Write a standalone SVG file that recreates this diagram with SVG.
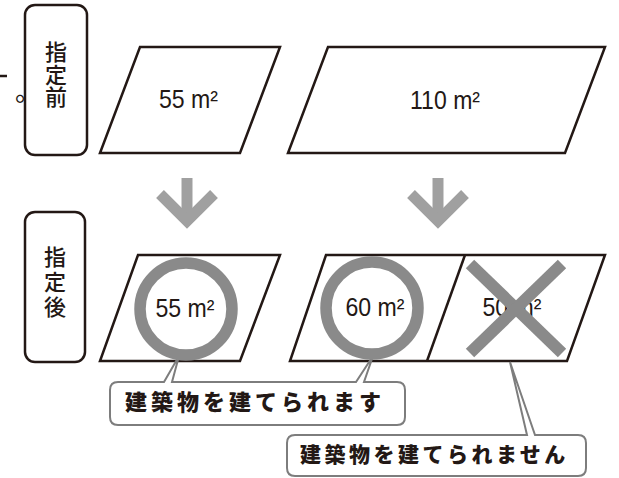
<svg xmlns="http://www.w3.org/2000/svg" width="619" height="478" viewBox="0 0 619 478">
<style>
.bg{fill:#fff}
.lbl{fill:#fff;stroke:#231815;stroke-width:2.5}
.vt{font-family:"Noto Sans CJK JP","Noto Sans CJK SC",sans-serif;font-weight:500;fill:#231815;writing-mode:vertical-rl;text-orientation:upright}
.plot{fill:#fff;stroke:#231815;stroke-width:2.5;stroke-linejoin:miter}
.area{font-family:"Liberation Sans",Arial,sans-serif;font-size:26px;fill:#231815;text-anchor:middle}
.arrow{fill:none;stroke:#a0a0a0;stroke-width:11;stroke-linejoin:miter}
.ok{fill:none;stroke:#8a8a8a;stroke-width:11.5}
.ng{stroke:#8a8a8a;stroke-width:12}
.call{fill:#fff;stroke:#7d7d7d;stroke-width:2;stroke-linejoin:miter}
.ct{font-family:"Noto Sans CJK JP","Noto Sans CJK SC",sans-serif;font-weight:900;fill:#231815}
</style>
<rect class="bg" x="0" y="0" width="619" height="478"/>

<g id="edge-fragment">
<line x1="0" y1="76" x2="7" y2="76" stroke="#231815" stroke-width="2.5"/>
<text x="15" y="101" font-family="Noto Sans CJK JP, sans-serif" font-size="26" fill="#231815">。</text>
</g>

<g id="before-label">
<rect class="lbl" x="25" y="5" width="62" height="150" rx="10"/>
<text class="vt" x="56" y="41" font-size="22" letter-spacing="0.5">指定前</text>
</g>

<g id="plot-55-before">
<polygon class="plot" points="140,47 280,47 240,153 100,153"/>
<text class="area" x="188.5" y="108" textLength="59" lengthAdjust="spacingAndGlyphs">55 m²</text>
</g>

<g id="plot-110-before">
<polygon class="plot" points="328,47 605,47 565,153 288,153"/>
<text class="area" x="445" y="109" textLength="70" lengthAdjust="spacingAndGlyphs">110 m²</text>
</g>

<g id="after-label">
<rect class="lbl" x="25" y="212" width="60" height="150" rx="10"/>
<text class="vt" x="55" y="246" font-size="22" letter-spacing="3">指定後</text>
</g>

<g id="connectors">
<line class="arrow" x1="187" y1="178" x2="187" y2="222"/>
<polyline class="arrow" points="160,194 187,221 214,194"/>
<line class="arrow" x1="438" y1="178" x2="438" y2="222"/>
<polyline class="arrow" points="411,194 438,221 465,194"/>
</g>

<g id="plot-55-after">
<polygon class="plot" points="138,255 280,255 240,361 100,361"/>
</g>

<g id="plot-110-after">
<polygon class="plot" points="326,255 605,255 567,361 290,361"/>
<line class="plot" x1="465" y1="255" x2="427" y2="361"/>
</g>

<g id="callout-can">
<path class="call" d="M118,382 H164 L179,356 L172,382 H356 L373,356 L364,382 H397 Q405,382 405,390 V417 Q405,425 397,425 H118 Q110,425 110,417 V390 Q110,382 118,382 Z"/>
<text class="ct" x="125" y="410" font-size="22" letter-spacing="4">建築物を建てられます</text>
</g>

<g id="callout-cannot">
<path class="call" d="M295,435 H527 L510,362 L535,435 H578 Q586,435 586,443 V468 Q586,476 578,476 H295 Q287,476 287,468 V443 Q287,435 295,435 Z"/>
<text class="ct" x="300" y="462" font-size="21" letter-spacing="3.5">建築物を建てられません</text>
</g>

<g id="mark-ok-55">
<circle class="ok" cx="186" cy="309" r="46"/>
<text class="area" x="185" y="317" textLength="59" lengthAdjust="spacingAndGlyphs">55 m²</text>
</g>

<g id="mark-ok-60">
<circle class="ok" cx="372" cy="308" r="46"/>
<text class="area" x="375" y="316" textLength="59" lengthAdjust="spacingAndGlyphs">60 m²</text>
</g>

<g id="mark-ng-50">
<text class="area" x="512" y="316" textLength="59" lengthAdjust="spacingAndGlyphs">50 m²</text>
<line class="ng" x1="470" y1="264" x2="562" y2="353"/>
<line class="ng" x1="562" y1="264" x2="470" y2="353"/>
</g>
</svg>
